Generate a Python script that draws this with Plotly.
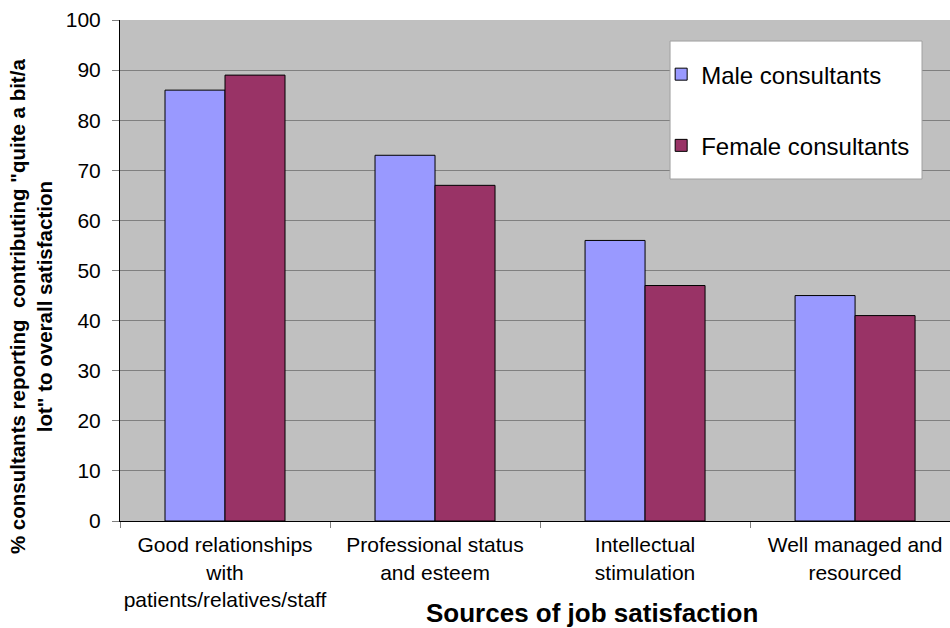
import plotly.graph_objects as go

categories = ["Good relationships<br>with<br>patients/relatives/staff",
              "Professional status<br>and esteem",
              "Intellectual<br>stimulation",
              "Well managed and<br>resourced"]
male = [86, 73, 56, 45]
female = [89, 67, 47, 41]

FONT = "Liberation Sans, Arial, sans-serif"

fig = go.Figure()
fig.add_trace(go.Bar(x=categories, y=male, name="Male consultants", legendgroup="m",
                     marker=dict(color="#9999FF", line=dict(color="#000000", width=1))))
fig.add_trace(go.Bar(x=categories, y=female, name="Female consultants", legendgroup="f",
                     marker=dict(color="#993366", line=dict(color="#000000", width=1))))

fig.update_layout(
    width=950, height=628,
    margin=dict(l=120, r=0, t=20, b=107, autoexpand=False),
    paper_bgcolor="white", plot_bgcolor="#C0C0C0",
    barmode="group", bargap=0.4286, bargroupgap=0,
    font=dict(family=FONT, size=21, color="#000000"),
    showlegend=True,
    legend=dict(x=0.652, y=0.936, xanchor="left", yanchor="top",
                bgcolor="rgba(0,0,0,0)", borderwidth=0,
                font=dict(size=24, family=FONT), tracegroupgap=37,
                itemwidth=30),
    shapes=[dict(type="rect", xref="paper", yref="paper", layer="above",
                 x0=0.6627, x1=0.9663, y0=0.6826, y1=0.958,
                 fillcolor="white", line=dict(color="#A0A0A0", width=1))],
    xaxis=dict(range=[-0.5, 3.452], showline=True, linecolor="#000000", linewidth=1,
               ticks="outside", tickson="boundaries", ticklen=6, tickcolor="#808080",
               ticklabelstandoff=5,
               tickfont=dict(size=21), tickangle=0, automargin=False, showgrid=False),
    yaxis=dict(range=[0, 100], dtick=10, showline=True, linecolor="#000000", linewidth=1,
               ticks="outside", ticklen=7, tickcolor="#808080", ticklabelstandoff=7,
               showgrid=True, gridcolor="#808080", gridwidth=1, zeroline=False,
               tickfont=dict(size=21), automargin=False),
    annotations=[
        dict(text="<b>Sources of job satisfaction</b>", xref="paper", yref="paper",
             x=0.5687, y=-0.1836, xanchor="center", yanchor="middle", showarrow=False,
             font=dict(size=26, family=FONT)),
        dict(text='<b>% consultants reporting  contributing "quite a bit/a<br>lot" to overall satisfaction</b>',
             xref="paper", yref="paper", x=-0.1072, y=0.427, xanchor="center", yanchor="middle",
             textangle=-90, showarrow=False, font=dict(size=20.5, family=FONT)),
    ],
)

fig.write_html("out.html")
